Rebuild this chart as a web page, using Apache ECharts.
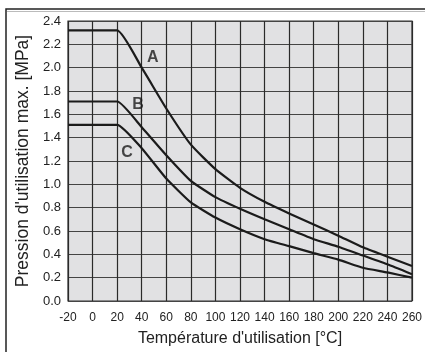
<!DOCTYPE html>
<html>
<head>
<meta charset="utf-8">
<script src="https://cdn.jsdelivr.net/npm/echarts@6/dist/echarts.min.js"></script>
<style>
html, body { margin: 0; padding: 0; background: #fff; }
#chart { width: 425px; height: 352px; }
</style>
</head>
<body>
<div id="chart"></div>
<script>
// temperatures (°C) and max pressure (MPa)
var temps = [-20, 20, 40, 60, 80, 100, 120, 140, 160, 180, 200, 220, 240, 260];
var curveA = [2.32, 2.32, 2.0, 1.65, 1.34, 1.13, 0.97, 0.85, 0.75, 0.655, 0.56, 0.46, 0.38, 0.30];
var curveB = [1.71, 1.71, 1.49, 1.25, 1.03, 0.89, 0.79, 0.70, 0.615, 0.53, 0.465, 0.39, 0.315, 0.23];
var curveC = [1.51, 1.51, 1.31, 1.05, 0.845, 0.715, 0.615, 0.53, 0.47, 0.41, 0.355, 0.285, 0.245, 0.20];
var curveNames = ['A', 'B', 'C'];
// where the A/B/C tags sit (temp, pressure)
var tagPos = [[49, 2.09], [37, 1.68], [28, 1.27]];

var dom = document.getElementById("chart");
var myChart = echarts.init(dom);

function pairs(vals) {
    return temps.map(function (t, i) { return [t, vals[i]]; });
}

var lineSeries = [curveA, curveB, curveC].map(function (vals, i) {
    return {
        name: curveNames[i],
        type: 'line',
        data: pairs(vals),
        showSymbol: false,
        smooth: 0.15,
        lineStyle: { color: '#1b1b1b', width: 2.2 },
        z: 3
    };
});

option = {
    animation: false,
    grid: {
        left: 68,
        top: 21,
        right: 8,
        bottom: 50,
        show: true,
        backgroundColor: '#e1e1e3',
        borderColor: '#333',
        borderWidth: 1.2
    },
    graphic: [{
        type: 'rect',
        shape: { x: 6, y: 9, width: 440, height: 370 },
        style: { fill: null, stroke: '#222', lineWidth: 1.5 },
        silent: true
    }, {
        type: 'line',
        shape: { x1: 7, y1: 11.5, x2: 425, y2: 11.5 },
        style: { stroke: '#bbb', lineWidth: 1 },
        silent: true
    }],
    xAxis: {
        type: 'value',
        min: -20,
        max: 260,
        interval: 20,
        name: "Température d'utilisation [°C]",
        nameLocation: 'middle',
        nameGap: 30,
        nameTextStyle: {
            color: '#222',
            fontSize: 16,
            fontFamily: 'Liberation Sans, Arial'
        },
        axisLine: { show: false },
        axisTick: { show: false },
        axisLabel: {
            margin: 11,
            color: '#222',
            fontSize: 12,
            fontFamily: 'Liberation Sans, Arial'
        },
        splitLine: {
            show: true,
            lineStyle: { color: '#2a2a2a', width: 1.2 }
        }
    },
    yAxis: {
        type: 'value',
        min: 0,
        max: 2.4,
        interval: 0.2,
        name: "Pression d'utilisation max. [MPa]",
        nameLocation: 'middle',
        nameGap: 32,
        nameTextStyle: {
            color: '#222',
            fontSize: 17.5,
            fontFamily: 'Liberation Sans, Arial'
        },
        axisLine: { show: false },
        axisTick: { show: false },
        axisLabel: {
            margin: 7,
            color: '#222',
            fontSize: 13,
            fontFamily: 'Liberation Sans, Arial',
            formatter: function (v) { return v.toFixed(1); }
        },
        splitLine: {
            show: true,
            lineStyle: { color: '#444', width: 1.2 }
        }
    },
    series: lineSeries.concat([{
        type: 'scatter',
        symbolSize: 0,
        data: tagPos.map(function (p, i) { return { value: p, name: curveNames[i] }; }),
        label: {
            show: true,
            position: 'inside',
            formatter: '{b}',
            color: '#1b1b1b',
            fontSize: 16,
            fontWeight: 'bold',
            fontFamily: 'Liberation Sans, Arial'
        },
        z: 4
    }])
};

if (option && typeof option === "object") {
    myChart.setOption(option, true);
}
</script>
</body>
</html>
